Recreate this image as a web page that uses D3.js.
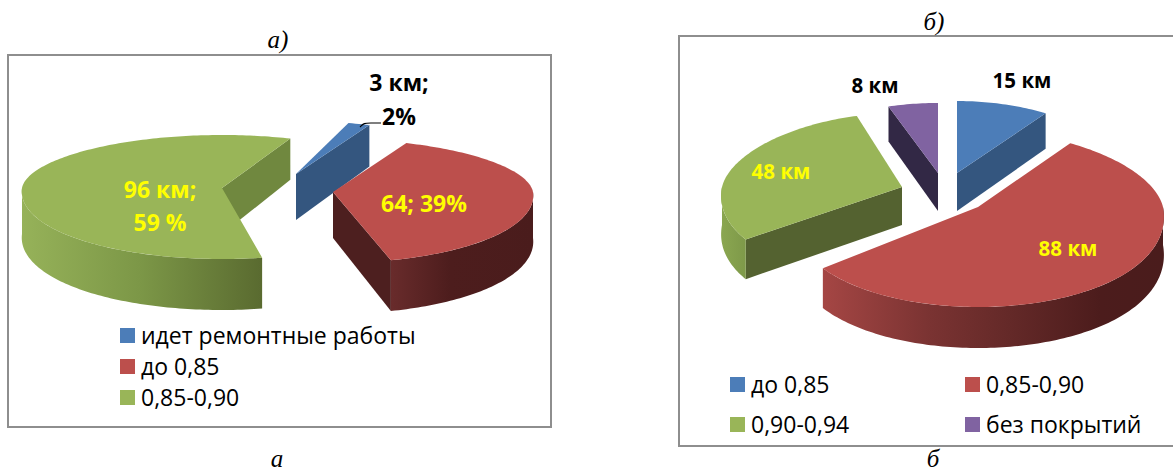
<!DOCTYPE html>
<html><head><meta charset="utf-8">
<script src="https://cdn.jsdelivr.net/npm/d3@7"></script>
<style>html,body{margin:0;padding:0;background:#fff;overflow:hidden}svg{display:block}</style>
</head><body><svg id="c" width="1173" height="473"></svg>
<script>
const categoriesA = ["идет ремонтные работы", "до 0,85", "0,85-0,90"];
const valuesA = [3, 64, 96];
const labelsA = [["3 км;", "2%"], ["64; 39%"], ["96 км;", "59 %"]];
const categoriesB = ["до 0,85", "0,85-0,90", "0,90-0,94", "без покрытий"];
const valuesB = [15, 88, 48, 8];
const labelsB = [["15 км"], ["88 км"], ["48 км"], ["8 км"]];

const topColors = ["#4c7db8", "#bc4f4c", "#99b558", "#8063a1"];
const sideColorsA = ["#34567f", "#4d1f1f", "#70883f", "#322845"];
const sideColorsB = ["#34567f", "#4d1f1f", "#546230", "#322845"];

const svg = d3.select("#c");
const defs = svg.append("defs");
const rad = d => d * Math.PI / 180;

const charts = [
  { id: "a", values: valuesA, labels: labelsA, side: sideColorsA, start: 20, fontSize: 23,
    rx: [200, 200, 200], ryT: [53, 53, 53], ryB: [71, 71, 71], turn: [-4, -4, 1], p: 0.05, d0: 46, d1: 5,
    centers: [[296, 174], [333, 192], [222, 188]], order: [2, 0, 1],
    grad: { 2: [[22, "#96b259"], [140, "#7c9747"], [261, "#5a6b30"]],
            1: [[388, "#6a2c2c"], [450, "#4d1d1d"], [534, "#4a1c1c"]] },
    labelPos: [[399, 91, 125], [424, 212], [160, 198, 231]],
    labelFill: ["#000", "#ffff00", "#ffff00"] },
  { id: "b", values: valuesB, labels: labelsB, side: sideColorsB, start: 0, fontSize: 20.5,
    rx: [173, 185, 180, 176], ryT: [72, 76, 74, 70], ryB: [98, 100, 92, 98], turn: [0, -1, 2, 0], p: 0.1, d0: 38, d1: 3,
    centers: [[957, 173], [978, 207], [902, 187], [938, 173]], order: [2, 3, 0, 1],
    grad: { 1: [[823, "#a54644"], [930, "#7a3332"], [1010, "#642928"], [1100, "#4c1c1c"], [1161, "#4a1c1c"]],
            2: [[722, "#8aa650"], [750, "#7c9748"]] },
    labelPos: [[1022, 88], [1068, 256], [781, 179], [875, 93]],
    labelFill: ["#000", "#ffff00", "#ffff00", "#000"] }
];

// frames
const frames = [[8, 55, 543, 372], [679, 36, 520, 410]];
svg.selectAll("rect.frame").data(frames).join("rect").attr("class", "frame")
  .attr("x", d => d[0]).attr("y", d => d[1]).attr("width", d => d[2]).attr("height", d => d[3])
  .attr("fill", "#fff").attr("stroke", "#8e8e8e").attr("stroke-width", 2);

charts.forEach(ch => {
  const arcs = d3.pie().sort(null).value(d => d)
    .startAngle(rad(ch.start)).endAngle(rad(ch.start) + 2 * Math.PI)(ch.values);
  const g = svg.append("g");
  const line = d3.line();
  ch.order.forEach(i => {
    const c = ch.centers[i];
    const a0 = arcs[i].startAngle + rad(ch.turn[i]), a1 = arcs[i].endAngle + rad(ch.turn[i]);
    const proj = (a, r, down) => {
      const cs = Math.cos(a), sn = Math.sin(a);
      const x = c[0] + ch.rx[i] * r * sn * (1 - ch.p * cs);
      const y = c[1] - r * cs * (cs > 0 ? ch.ryT[i] : ch.ryB[i]);
      return [x, y + (down ? ch.d0 - ch.d1 * cs * r : 0)];
    };
    const sweep = (p0, p1, down) => {
      const n = Math.max(2, Math.ceil(Math.abs(p1 - p0) / 0.02));
      return d3.range(n + 1).map(k => proj(p0 + (p1 - p0) * k / n, 1, down));
    };
    const sg = g.append("g");
    // cut walls facing the viewer
    const wall = ang => {
      sg.append("path").attr("d", line([proj(ang, 0, false), proj(ang, 1, false), proj(ang, 1, true), proj(ang, 0, true)]) + "Z")
        .attr("fill", ch.side[i]);
    };
    if (Math.sin(a0) < 0) wall(a0);
    if (Math.sin(a1) > 0) wall(a1);
    // outer wall
    const lo = Math.max(a0, Math.PI / 2), hi = Math.min(a1, 1.5 * Math.PI);
    if (hi > lo) {
      let fill = ch.side[i];
      if (ch.grad[i]) {
        const gid = `g${ch.id}${i}`, st = ch.grad[i];
        const xs = d3.scaleLinear().domain([st[0][0], st[st.length - 1][0]]).range([0, 1]);
        const lg = defs.append("linearGradient").attr("id", gid)
          .attr("gradientUnits", "userSpaceOnUse")
          .attr("x1", st[0][0]).attr("x2", st[st.length - 1][0]).attr("y1", 0).attr("y2", 0);
        st.forEach(t => lg.append("stop").attr("offset", xs(t[0])).attr("stop-color", t[1]));
        fill = `url(#${gid})`;
      }
      sg.append("path").attr("d", line(sweep(lo, hi, false).concat(sweep(hi, lo, true))) + "Z").attr("fill", fill);
    }
    // top face
    sg.append("path").attr("d", line([proj(a0, 0, false)].concat(sweep(a0, a1, false))) + "Z").attr("fill", topColors[i]);
  });
  // labels
  ch.labels.forEach((lines, i) => {
    const lp = ch.labelPos[i];
    lines.forEach((t, k) => {
      g.append("text").attr("x", lp[0]).attr("y", lp[k + 1]).attr("text-anchor", "middle")
        .attr("font-family", "'Open Sans', 'Noto Sans', sans-serif").attr("font-weight", 700)
        .attr("font-size", ch.fontSize).attr("fill", ch.labelFill[i]).text(t);
    });
  });
});

// leader line for the smallest slice
svg.append("path").attr("d", d3.line().curve(d3.curveBasis)([[360, 127], [364, 123], [370, 123], [381, 123]]))
  .attr("fill", "none").attr("stroke", "#000").attr("stroke-width", 1.2);

// titles
const titles = [["а)", 278, 48], ["б)", 934, 30], ["а", 277, 467], ["б", 933, 467]];
svg.selectAll("text.title").data(titles).join("text").attr("class", "title")
  .attr("x", d => d[1]).attr("y", d => d[2]).attr("text-anchor", "middle")
  .attr("font-family", "'Liberation Serif', serif").attr("font-style", "italic")
  .attr("font-size", 25).attr("fill", "#000").text(d => d[0]);

// legends
const legendFont = "'Open Sans', 'Noto Sans', sans-serif";
const legA = categoriesA.map((t, i) => ({ t, c: topColors[i], x: 120, y: 328 + i * 31 }));
const legB = categoriesB.map((t, i) => ({ t, c: topColors[i], x: i % 2 ? 965 : 730, y: i < 2 ? 377 : 417 }));
const legend = legA.concat(legB);
svg.selectAll("rect.sw").data(legend).join("rect").attr("class", "sw")
  .attr("x", d => d.x).attr("y", d => d.y).attr("width", 15).attr("height", 15).attr("fill", d => d.c);
svg.selectAll("text.lg").data(legend).join("text").attr("class", "lg")
  .attr("x", d => d.x + 21).attr("y", d => d.y + 15.5)
  .attr("font-family", legendFont).attr("font-size", 23).attr("fill", "#000").text(d => d.t);
</script></body></html>
